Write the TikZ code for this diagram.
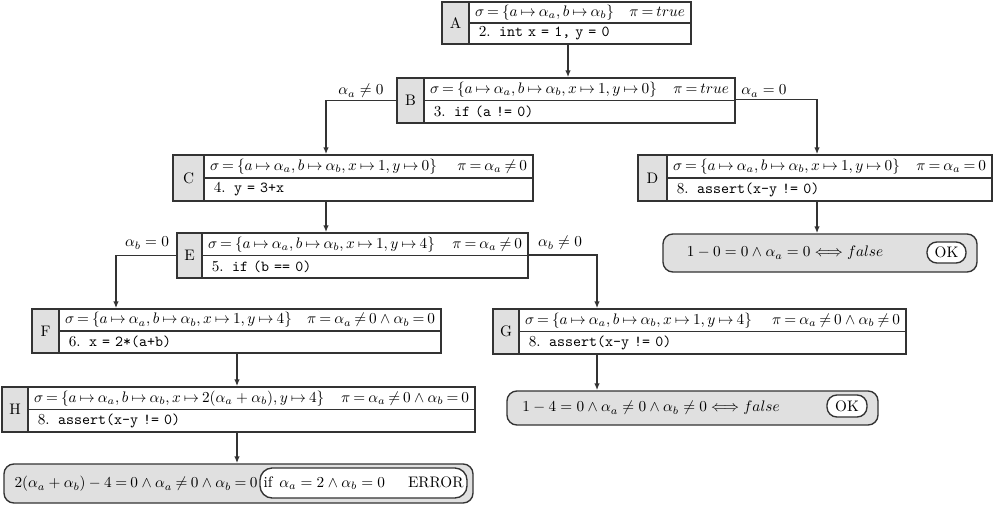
\documentclass[tikz,border=0pt]{standalone}
\usetikzlibrary{arrows.meta}
\definecolor{linec}{gray}{0.2}
\definecolor{greyf}{gray}{0.88}
\tikzset{
  labbox/.code 2 args={\pgfmathsetmacro\bw{#1*0.656}\pgfmathsetmacro\bh{#2*0.656}%
    \pgfkeysalso{draw=linec, fill=greyf, line width=0.9pt, inner sep=0pt, minimum width=\bw pt, minimum height=\bh pt}},
  rowbox/.code 2 args={\pgfmathsetmacro\bw{(#1-12)*0.656}\pgfmathsetmacro\bh{#2*0.656}%
    \pgfkeysalso{draw=linec, fill=white, line width=0.9pt, inner xsep=3.94pt, inner ysep=0pt, text width=\bw pt, minimum height=\bh pt,
      execute at begin node={\thickmuskip=3.5mu plus 2mu\relax}}},
  resbox/.code 2 args={\pgfmathsetmacro\bw{#1*0.656}\pgfmathsetmacro\bh{#2*0.656}%
    \pgfkeysalso{draw=linec, fill=greyf, line width=0.9pt, rounded corners=6.5pt, inner sep=0pt, minimum width=\bw pt, minimum height=\bh pt}},
  okbox/.code 2 args={\pgfmathsetmacro\bw{#1*0.656}\pgfmathsetmacro\bh{#2*0.656}%
    \pgfkeysalso{draw=linec, fill=white, line width=0.9pt, rounded corners=6.5pt, inner sep=0pt, minimum width=\bw pt, minimum height=\bh pt}},
  arr/.style={draw=linec, line width=0.9pt, -{Latex[length=4.5pt,width=3.5pt]}},
  lbl/.style={inner sep=0pt},
  txt/.style={inner sep=0pt},
}
\newcommand\codeln[2]{\hspace*{2.5pt}#1.\hspace{5.5pt}\texttt{#2}}
\newcommand\strow[2]{\hbox to \linewidth{$#1$\hfill$#2$}}
\begin{document}
\begin{tikzpicture}[x=0.656pt,y=-0.656pt]
\useasboundingbox (0,0) rectangle (994,504);
% A
\node[labbox={27}{42}] (A) at (455.5,23) {A};
\node[rowbox={222}{21}] (A1) at (580,12.5) {\strow{\sigma=\{a\mapsto\alpha_a,b\mapsto\alpha_b\}}{\pi=true}};
\node[rowbox={222}{21}] (A2) at (580,33.5) {\codeln{2}{int x = 1, y = 0}};
% B
\node[labbox={27}{45}] (B) at (410.5,100.5) {B};
\node[rowbox={311}{22.5}] (B1) at (579.5,89.25) {\strow{\sigma=\{a\mapsto\alpha_a,b\mapsto\alpha_b,x\mapsto1,y\mapsto0\}}{\pi=true}};
\node[rowbox={311}{22.5}] (B2) at (579.5,111.75) {\codeln{3}{if (a != 0)}};
% C
\node[labbox={31}{46}] (C) at (188.5,178) {C};
\node[rowbox={329}{23}] (C1) at (368.5,166.5) {\strow{\sigma=\{a\mapsto\alpha_a,b\mapsto\alpha_b,x\mapsto1,y\mapsto0\}}{\pi=\alpha_a\neq0}};
\node[rowbox={329}{23}] (C2) at (368.5,189.5) {\codeln{4}{y = 3+x}};
% D
\node[labbox={29}{46}] (D) at (652.5,178) {D};
\node[rowbox={325}{23}] (D1) at (829.5,166.5) {\strow{\sigma=\{a\mapsto\alpha_a,b\mapsto\alpha_b,x\mapsto1,y\mapsto0\}}{\pi=\alpha_a=0}};
\node[rowbox={325}{23}] (D2) at (829.5,189.5) {\codeln{8}{assert(x-y != 0)}};
% E
\node[labbox={25}{45}] (E) at (189.5,255.5) {E};
\node[rowbox={326}{22.5}] (E1) at (365,244.25) {\strow{\sigma=\{a\mapsto\alpha_a,b\mapsto\alpha_b,x\mapsto1,y\mapsto4\}}{\pi=\alpha_a\neq0}};
\node[rowbox={326}{22.5}] (E2) at (365,266.75) {\codeln{5}{if (b == 0)}};
% F
\node[labbox={27}{44}] (F) at (45.5,331) {F};
\node[rowbox={382}{22}] (F1) at (250,320) {\strow{\sigma=\{a\mapsto\alpha_a,b\mapsto\alpha_b,x\mapsto1,y\mapsto4\}}{\pi=\alpha_a\neq0\wedge\alpha_b=0}};
\node[rowbox={382}{22}] (F2) at (250,342) {\codeln{6}{x = 2*(a+b)}};
% G
\node[labbox={26}{45}] (G) at (506,331.5) {G};
\node[rowbox={387}{22.5}] (G1) at (712.5,320.25) {\strow{\sigma=\{a\mapsto\alpha_a,b\mapsto\alpha_b,x\mapsto1,y\mapsto4\}}{\pi=\alpha_a\neq0\wedge\alpha_b\neq0}};
\node[rowbox={387}{22.5}] (G2) at (712.5,342.75) {\codeln{8}{assert(x-y != 0)}};
% H
\node[labbox={26}{45}] (H) at (15,409.5) {H};
\node[rowbox={447}{22.5}] (H1) at (251.5,398.25) {\strow{\sigma=\{a\mapsto\alpha_a,b\mapsto\alpha_b,x\mapsto2(\alpha_a+\alpha_b),y\mapsto4\}}{\pi=\alpha_a\neq0\wedge\alpha_b=0}};
\node[rowbox={447}{22.5}] (H2) at (251.5,420.75) {\codeln{8}{assert(x-y != 0)}};
% results
\node[resbox={314}{38}] (Dr) at (820,253) {};
\node[txt] (Drt) at (785,253) {$1-0=0\wedge\alpha_a=0\Longleftrightarrow false$};
\node[okbox={39}{21}] (Dok) at (946.5,252.5) {OK};
\node[resbox={371}{34}] (Gr) at (692.5,408) {};
\node[txt] (Grt) at (651,408) {$1-4=0\wedge\alpha_a\neq0\wedge\alpha_b\neq0\Longleftrightarrow false$};
\node[okbox={40}{22}] (Gok) at (847,406) {OK};
\node[resbox={469}{39}] (Hr) at (238.5,483.5) {};
\node[txt, execute at begin node={\thickmuskip=4mu plus 2mu\relax}] (Hrt) at (136,484) {$2(\alpha_a+\alpha_b)-4=0\wedge\alpha_a\neq0\wedge\alpha_b=0$};
\node[okbox={207}{30}, rounded corners=8pt] (Hin) at (363.5,483) {if\hspace{4.5pt}$\alpha_a=2\wedge\alpha_b=0$\hspace{15pt}ERROR};
% branch labels
\node[lbl] (la) at (361,91) {$\alpha_a\neq0$};
\node[lbl] (lb) at (764,91) {$\alpha_a=0$};
\node[lbl] (lc) at (147,243) {$\alpha_b=0$};
\node[lbl] (ld) at (560,243) {$\alpha_b\neq0$};
% connectors
\coordinate (xAB) at (568,0);
\coordinate (xL1) at (326,0);
\coordinate (xR1) at (817,0);
\coordinate (xL2) at (116,0);
\coordinate (xR2) at (597,0);
\coordinate (xFH) at (237,0);
\draw[arr] (xAB |- A2.south) -- (xAB |- B1.north);
\draw[arr] (B.west) -| (xL1 |- C1.north);
\draw[arr] (B2.north east) -| (xR1 |- D1.north);
\draw[arr] (xL1 |- C2.south) -- (xL1 |- E1.north);
\draw[arr] (E.west) -| (xL2 |- F1.north);
\draw[arr] (E2.north east) -| (xR2 |- G1.north);
\draw[arr] (xFH |- F2.south) -- (xFH |- H1.north);
\draw[arr] (xR1 |- D2.south) -- (xR1 |- Dr.north);
\draw[arr] (xR2 |- G2.south) -- (xR2 |- Gr.north);
\draw[arr] (xFH |- H2.south) -- (xFH |- Hr.north);
\end{tikzpicture}
\end{document}
